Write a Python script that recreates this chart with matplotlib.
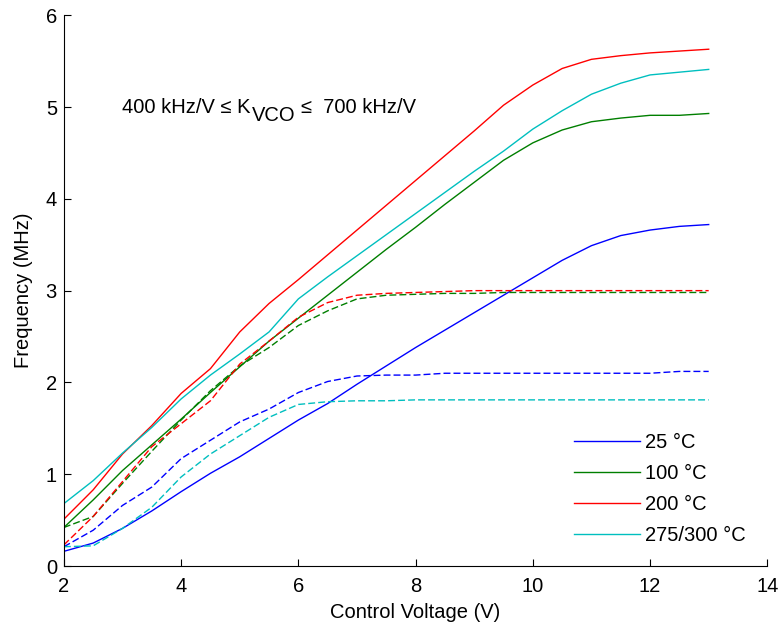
import numpy as np
from matplotlib import pyplot as plt

plt.rcParams['font.family'] = ['Liberation Sans', 'DejaVu Sans']

# Control voltage sweep (V)
vctrl = [2, 2.5, 3, 3.5, 4, 4.5, 5, 5.5, 6, 6.5, 7, 7.5, 8, 8.5, 9,
         9.5, 10, 10.5, 11, 11.5, 12, 12.5, 13]

# Frequency (MHz), solid lines
f25 = [0.16, 0.25, 0.41, 0.60, 0.81, 1.01, 1.19, 1.39, 1.59, 1.77, 1.98, 2.18,
       2.38, 2.57, 2.76, 2.95, 3.14, 3.33, 3.49, 3.60, 3.66, 3.70, 3.72]
f100 = [0.42, 0.72, 1.04, 1.32, 1.60, 1.89, 2.17, 2.45, 2.70, 2.95, 3.20, 3.45,
        3.69, 3.94, 4.18, 4.42, 4.61, 4.75, 4.84, 4.88, 4.91, 4.91, 4.93]
f200 = [0.51, 0.83, 1.22, 1.53, 1.88, 2.15, 2.55, 2.86, 3.12, 3.39, 3.66, 3.93,
        4.20, 4.47, 4.74, 5.02, 5.24, 5.42, 5.52, 5.56, 5.59, 5.61, 5.63]
f300 = [0.68, 0.93, 1.23, 1.51, 1.82, 2.08, 2.31, 2.55, 2.91, 3.15, 3.38, 3.61,
        3.84, 4.07, 4.30, 4.52, 4.76, 4.96, 5.14, 5.26, 5.35, 5.38, 5.41]

# Frequency (MHz), dashed lines
d25 = [0.21, 0.39, 0.66, 0.86, 1.17, 1.37, 1.57, 1.71, 1.89, 2.01, 2.07, 2.08,
       2.08, 2.10, 2.10, 2.10, 2.10, 2.10, 2.10, 2.10, 2.10, 2.12, 2.12]
d100 = [0.42, 0.54, 0.90, 1.25, 1.59, 1.91, 2.18, 2.38, 2.62, 2.78, 2.91, 2.95,
        2.96, 2.97, 2.97, 2.98, 2.98, 2.98, 2.98, 2.98, 2.98, 2.98, 2.98]
d200 = [0.23, 0.54, 0.92, 1.30, 1.55, 1.80, 2.20, 2.45, 2.71, 2.87, 2.95, 2.97,
        2.98, 2.99, 3.00, 3.00, 3.00, 3.00, 3.00, 3.00, 3.00, 3.00, 3.00]
d300 = [0.21, 0.22, 0.41, 0.64, 0.97, 1.22, 1.42, 1.62, 1.76, 1.79, 1.80, 1.80,
        1.81, 1.81, 1.81, 1.81, 1.81, 1.81, 1.81, 1.81, 1.81, 1.81, 1.81]

labels = ['25 \u00b0C', '100 \u00b0C', '200 \u00b0C', '275/300 \u00b0C']
colors = ['#0000ff', '#007f00', '#ff0000', '#00bfbf']

fs = 14.5
fig = plt.figure(figsize=(7.79, 6.28), dpi=100)
ax = fig.add_axes([0.082, 0.0987, 0.903, 0.877])

solid = [f25, f100, f200, f300]
dashed = [d25, d100, d200, d300]
for ys, c, lab in zip(solid, colors, labels):
    ax.plot(vctrl, ys, color=c, lw=1.0, label=lab)
for ys, c in zip(dashed, colors):
    ax.plot(vctrl, ys, color=c, lw=1.0, dashes=(5, 2.2))

ax.set_xlim(2, 14)
ax.set_ylim(0, 6)
ax.set_xticks(np.arange(2, 15, 2))
ax.set_yticks(np.arange(0, 7, 1))
ax.spines['top'].set_visible(False)
ax.spines['right'].set_visible(False)
ax.tick_params(direction='in', length=5, labelsize=fs, width=0.8)
ax.tick_params(axis='x', pad=8)
ax.tick_params(axis='y', pad=5)
ax.set_xlabel('Control Voltage (V)', fontsize=fs, labelpad=5)
ax.set_ylabel('Frequency (MHz)', fontsize=fs, labelpad=9)

# K_VCO note, subscript at full size and lowered like the original
base = 4.94
t1 = ax.text(3.0, base, '400 kHz/V \u2264 K', fontsize=fs, va='baseline')
t2 = ax.annotate('VCO', xy=(1, base), xycoords=(t1, 'data'),
                 xytext=(0.5, -6), textcoords='offset points',
                 fontsize=fs, va='baseline')
ax.annotate('\u2264  700 kHz/V', xy=(1, base), xycoords=(t2, 'data'),
            xytext=(4, 0), textcoords='offset points',
            fontsize=fs, va='baseline')

ax.legend(loc='lower right', frameon=False, fontsize=fs, handlelength=3.3,
          handletextpad=0.25, labelspacing=0.6, borderaxespad=0.65,
          bbox_to_anchor=(1.0, 0.0))

fig.savefig('out.png', dpi=100)
